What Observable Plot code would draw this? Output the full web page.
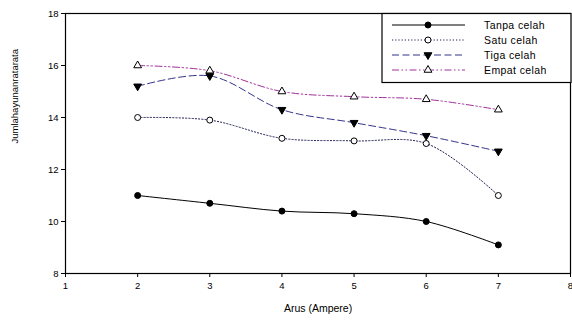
<!DOCTYPE html>
<html>
<head>
<meta charset="utf-8">
<script src="https://cdn.jsdelivr.net/npm/d3@7"></script>
<script src="https://cdn.jsdelivr.net/npm/@observablehq/plot@0.6"></script>
<style>
  body { margin: 0; background: #fff; }
  #wrap { position: relative; width: 572px; height: 320px; font-family: "Liberation Sans", Arial, sans-serif; }
  #legend { position: absolute; left: 0; top: 0; }
</style>
</head>
<body>
<div id="wrap"></div>
<script>
const arus = [2, 3, 4, 5, 6, 7];
const seriesNames = ["Tanpa celah", "Satu celah", "Tiga celah", "Empat celah"];
const tanpa = [11.0, 10.7, 10.4, 10.3, 10.0, 9.1];
const satu  = [14.0, 13.9, 13.2, 13.1, 13.0, 11.0];
const tiga  = [15.2, 15.6, 14.3, 13.8, 13.3, 12.7];
const empat = [16.0, 15.8, 15.0, 14.8, 14.7, 14.3];
const xTicks = [1, 2, 3, 4, 5, 6, 7, 8];
const yTicks = [8, 10, 12, 14, 16, 18];

const styles = [
  {stroke: "#000000", dash: null, symbol: "circle", fill: "#000", rotate: 0, r: 3},
  {stroke: "#1a1a50", dash: "1.2,2", symbol: "circle", fill: "#fff", rotate: 0, r: 3},
  {stroke: "#33338a", dash: "7,3.5", symbol: "triangle", fill: "#000", rotate: 180, r: 2.9},
  {stroke: "#a0309a", dash: "7,2.5,1.5,2.5,1.5,2.5", symbol: "triangle", fill: "#fff", rotate: 0, r: 2.9}
];
const values = [tanpa, satu, tiga, empat];
const data = values.map((vals, i) => arus.map((x, j) => ({x, y: vals[j], s: seriesNames[i]})));

const marks = [];
data.forEach((d, i) => {
  const st = styles[i];
  marks.push(Plot.line(d, {x: "x", y: "y", curve: "catmull-rom", stroke: st.stroke, strokeWidth: 1, strokeDasharray: st.dash}));
});
data.forEach((d, i) => {
  const st = styles[i];
  marks.push(Plot.dot(d, {x: "x", y: "y", symbol: () => st.symbol, r: st.r, rotate: st.rotate, fill: st.fill, stroke: "#000", strokeWidth: 1}));
});

const chart = Plot.plot({
  width: 572,
  height: 320,
  marginLeft: 65,
  marginRight: 2,
  marginTop: 13,
  marginBottom: 47,
  style: {fontFamily: "Liberation Sans, Arial, sans-serif", fontSize: "9.5px", background: "#fff", color: "#000"},
  x: {domain: [1, 8]},
  y: {domain: [8, 18]},
  symbol: {type: "identity"},
  marks: [
    Plot.frame({stroke: "#000", strokeWidth: 1.2}),
    Plot.axisX({ticks: xTicks, tickFormat: d3.format("d"), tickSize: 4, tickPadding: 5, label: null, fontSize: 9.5}),
    Plot.axisY({ticks: yTicks, tickFormat: d3.format("d"), tickSize: 4, tickPadding: 3, label: null, fontSize: 9.5}),
    Plot.text(["Arus (Ampere)"], {frameAnchor: "bottom", dy: 38, fontSize: 10.5, letterSpacing: "0.5px"}),
    Plot.text(["Jumlahayunanratarata"], {frameAnchor: "left", dx: -51, rotate: -90, fontSize: 9.5, letterSpacing: "-0.6px"}),
    ...marks
  ]
});
document.getElementById("wrap").appendChild(chart);

// Legend overlay
const svg = d3.select("#wrap").append("svg").attr("id", "legend").attr("width", 572).attr("height", 100);
svg.append("rect").attr("x", 382).attr("y", 13.5).attr("width", 189).attr("height", 69)
  .attr("fill", "#fff").attr("stroke", "#000").attr("stroke-width", 1.2);
const rowsY = [25, 40, 55, 70];
seriesNames.forEach((name, i) => {
  const st = styles[i];
  const y = rowsY[i];
  svg.append("line").attr("x1", 392).attr("x2", 465).attr("y1", y).attr("y2", y)
    .attr("stroke", st.stroke).attr("stroke-width", 1).attr("stroke-dasharray", st.dash);
  const sym = st.symbol === "circle" ? d3.symbolCircle : d3.symbolTriangle;
  const area = Math.PI * st.r * st.r;
  svg.append("path").attr("d", d3.symbol(sym, area)())
    .attr("transform", `translate(428,${y}) rotate(${st.rotate})`)
    .attr("fill", st.fill).attr("stroke", "#000").attr("stroke-width", 1);
  svg.append("text").attr("x", 484).attr("y", y + 3.5).text(name)
    .attr("font-size", "10.5px").attr("letter-spacing", "0.4px").attr("fill", "#000");
});
</script>
</body>
</html>
